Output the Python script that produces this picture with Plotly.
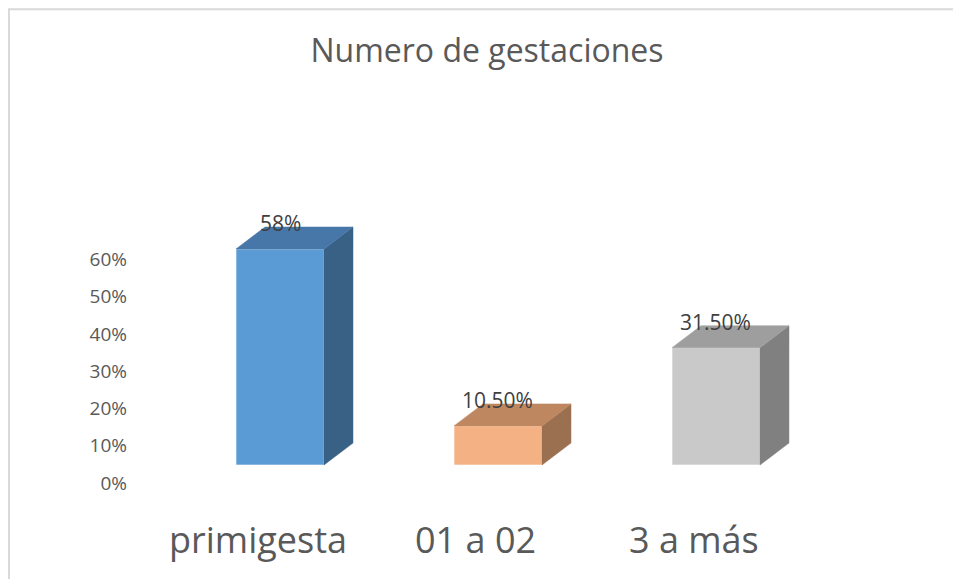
import plotly.graph_objects as go

categories = ["primigesta", "01 a 02", "3 a más"]
values = [0.58, 0.105, 0.315]
value_labels = ["58%", "10.50%", "31.50%"]
tick_values = [0, 0.1, 0.2, 0.3, 0.4, 0.5, 0.6]
title_text = "Numero de gestaciones"

front_colors = ["#5B9BD5", "#F4B183", "#C9C9C9"]
top_colors = ["#4677A8", "#BF8760", "#9E9E9E"]
side_colors = ["#386185", "#9A7050", "#808080"]

FONT = "'Open Sans', Lato, sans-serif"
half_w = 0.2018
depth_x = 0.133
depth_y = 0.0591

W, H = 953, 571

fig = go.Figure()
xs = list(range(len(categories)))
fig.add_trace(go.Bar(
    x=xs, y=values, width=2 * half_w,
    marker=dict(color=front_colors, line=dict(color="rgba(255,255,255,0.6)", width=1)),
    hoverinfo="skip", showlegend=False,
))
for i, v in enumerate(values):
    # side face
    fig.add_trace(go.Scatter(
        x=[i + half_w, i + half_w + depth_x, i + half_w + depth_x, i + half_w, i + half_w],
        y=[0, depth_y, v + depth_y, v, 0],
        fill="toself", fillcolor=side_colors[i], mode="lines",
        line=dict(width=0.5, color=side_colors[i]), hoverinfo="skip", showlegend=False,
    ))
    # top face
    fig.add_trace(go.Scatter(
        x=[i - half_w, i + half_w, i + half_w + depth_x, i - half_w + depth_x, i - half_w],
        y=[v, v, v + depth_y, v + depth_y, v],
        fill="toself", fillcolor=top_colors[i], mode="lines",
        line=dict(width=0.5, color=top_colors[i]), hoverinfo="skip", showlegend=False,
    ))
    fig.add_annotation(x=i, y=v + depth_y, xref="x", yref="y", text=value_labels[i],
                       showarrow=False, yanchor="middle", xanchor="center",
                       font=dict(family=FONT, size=21, color="#404040"), yshift=4)
    fig.add_annotation(x=i, y=0.0692, xref="x", yref="paper", text=categories[i],
                       showarrow=False, xshift=-22, yanchor="middle", xanchor="center",
                       font=dict(family=FONT, size=36, color="#595959"))

# invisible trace to activate the tick-label axis
fig.add_trace(go.Scatter(x=[None], y=[None], yaxis="y2", showlegend=False, hoverinfo="skip"))

fig.update_layout(
    width=W, height=H,
    margin=dict(l=0, r=0, t=0, b=0),
    paper_bgcolor="white", plot_bgcolor="white",
    showlegend=False,
    xaxis=dict(range=[-1.2477, 3.1239], visible=False, fixedrange=True),
    yaxis=dict(range=[-0.3061, 1.2272], visible=False, fixedrange=True),
    yaxis2=dict(range=[-0.2578, 1.2755], overlaying="y", anchor="free", position=0.1249,
                side="left", tickvals=tick_values, tickformat=".0%", showgrid=False,
                zeroline=False, showline=False, ticks="",
                tickfont=dict(family=FONT, size=19, color="#595959")),
    title=dict(text=title_text, x=479 / W, xanchor="center", y=0.925, yanchor="middle",
               font=dict(family=FONT, size=32, color="#595959")),
    shapes=[dict(type="rect", xref="paper", yref="paper", x0=0.001, x1=1.05, y0=-0.05, y1=0.998,
                 line=dict(color="#D9D9D9", width=2), layer="below")],
)
fig.write_html("out.html")
